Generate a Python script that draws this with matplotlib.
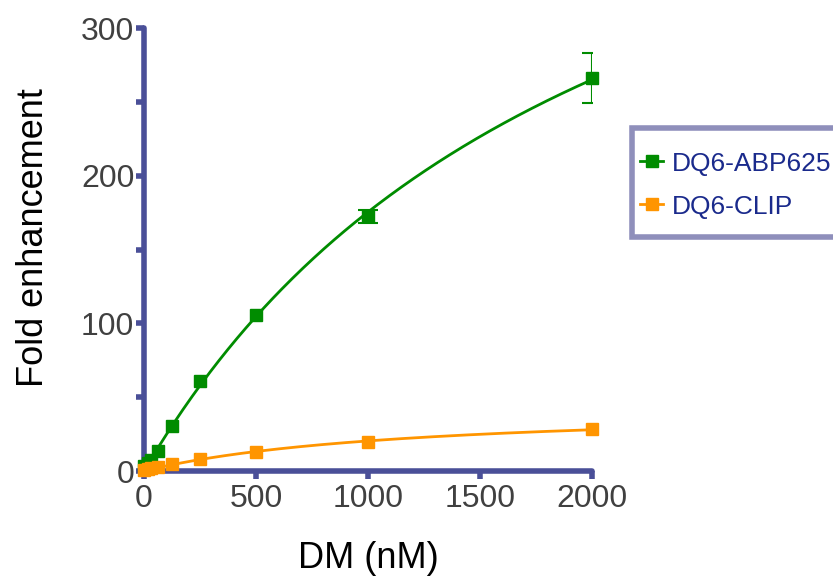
import numpy as np
import matplotlib
matplotlib.use('Agg')
from matplotlib import pyplot as plt
from matplotlib.patches import Rectangle

dm = [0, 15.6, 31.25, 62.5, 125, 250, 500, 1000, 2000]
abp = [3.5, 5.5, 7.5, 13.5, 30.5, 61, 105.6, 172.6, 266]
abp_err = [0, 0, 0, 0, 0, 0, 0, 4.5, 17]
clip = [0.5, 1.5, 2.0, 3.0, 4.7, 8.1, 12.9, 19.6, 28.4]
clip_err = [0, 0, 0, 0, 0, 0, 0, 0, 0]

green = '#008c00'
orange = '#ff9500'
axcol = '#4a4f98'


def fit_hyperbola(x, y):
    # one-site binding fit Y = Bmax*X/(Kd+X), grid search on Kd
    x = np.asarray(x, float)
    y = np.asarray(y, float)
    best = None
    for kd in np.linspace(50, 10000, 4000):
        f = x / (kd + x)
        bmax = (f @ y) / (f @ f)
        r = np.sum((y - bmax * f) ** 2)
        if best is None or r < best[0]:
            best = (r, bmax, kd)
    return best[1], best[2]


plt.rcParams['font.family'] = ['Liberation Sans', 'DejaVu Sans']
fig = plt.figure(figsize=(8.33, 5.79), dpi=100)
ax = fig.add_axes([0.1729, 0.1865, 0.5378, 0.7651])

xs = np.linspace(0, 2000, 300)
for y, err, col, lab in [(abp, abp_err, green, 'DQ6-ABP625'), (clip, clip_err, orange, 'DQ6-CLIP')]:
    bmax, kd = fit_hyperbola(dm, y)
    ax.plot(xs, bmax * xs / (kd + xs), color=col, lw=2, zorder=3)
    ax.plot(dm, y, 's', color=col, ms=9, zorder=4, clip_on=False)
    idx = [i for i, e in enumerate(err) if e > 0]
    if idx:
        ax.errorbar([dm[i] for i in idx], [y[i] for i in idx], yerr=[err[i] for i in idx],
                    fmt='none', ecolor=col, capsize=7, elinewidth=1.5, capthick=1.5, zorder=4)
    ax.plot([], [], '-s', color=col, ms=8, lw=2, label=lab)

ax.set_xlim(0, 2000)
ax.set_ylim(0, 300)
ax.set_xticks([0, 500, 1000, 1500, 2000])
ax.set_yticks(np.arange(0, 301, 50))
ax.set_yticklabels(['0', '', '100', '', '200', '', '300'])
for s in ['top', 'right']:
    ax.spines[s].set_visible(False)
for s in ['left', 'bottom']:
    ax.spines[s].set_color(axcol)
    ax.spines[s].set_linewidth(4)
    ax.spines[s].set_capstyle('round')
ax.tick_params(length=6, width=4, color=axcol, labelsize=23, labelcolor='#404040', pad=3)
ax.tick_params(axis='y', pad=1)
for t in ax.xaxis.get_ticklines() + ax.yaxis.get_ticklines():
    t.set_solid_capstyle('round')
ax.set_xlabel('DM (nM)', fontsize=26, color='black', labelpad=20)
ax.set_ylabel('Fold enhancement', fontsize=26, color='black')
ax.yaxis.set_label_coords(-0.207, 0.526)

# legend box drawn separately so the text can sit close to the frame
fig.patches.append(Rectangle((0.7587, 0.5907), 0.26, 0.1883, transform=fig.transFigure,
                             facecolor='white', edgecolor='#8f8fbb', lw=4, zorder=0))
leg = fig.legend(loc='upper left', bbox_to_anchor=(0.768, 0.738), fontsize=19, frameon=False,
                 handlelength=0.9, handletextpad=0.3, borderpad=0,
                 labelspacing=0.72, borderaxespad=0)
for t in leg.get_texts():
    t.set_color('#1a2a8c')

fig.savefig('out.png', dpi=100)
